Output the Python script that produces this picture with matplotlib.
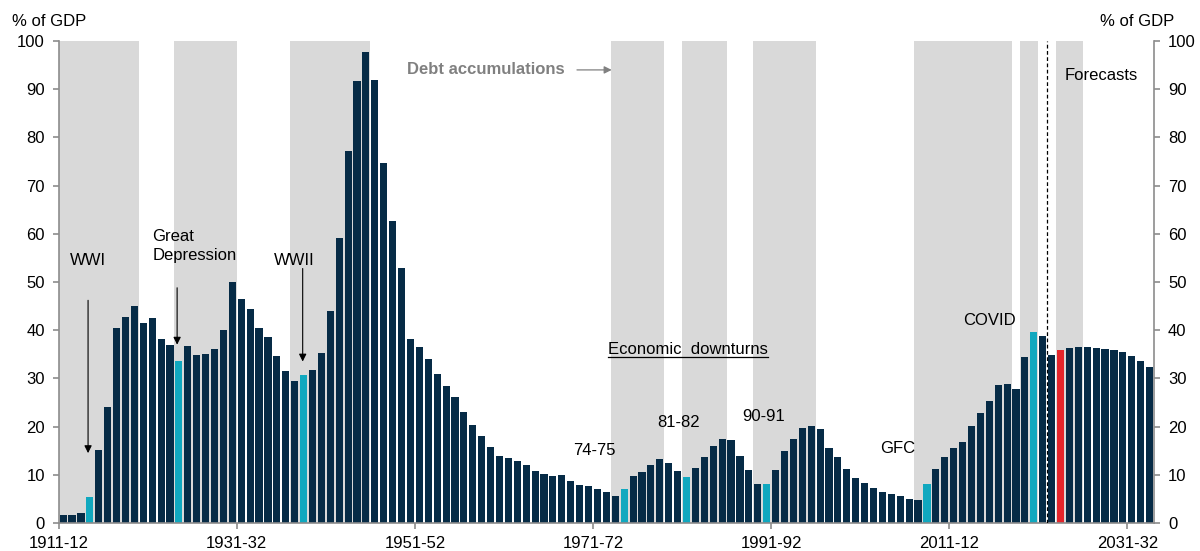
import matplotlib
matplotlib.use("Agg")
import matplotlib.pyplot as plt
from matplotlib.lines import Line2D

plt.rcParams['font.family'] = ['Liberation Sans', 'DejaVu Sans']

start_year = 1911
debt = [1.6, 1.6, 2.0, 5.4, 15.1, 24.1, 40.5, 42.8, 45.0, 41.4,
        42.5, 38.2, 37.0, 33.7, 36.7, 34.8, 35.1, 36.0, 40.0, 50.1,
        46.4, 44.5, 40.5, 38.5, 34.7, 31.5, 29.5, 30.8, 31.7, 35.3,
        44.0, 59.1, 77.1, 91.7, 97.7, 91.9, 74.7, 62.6, 53.0, 38.2,
        36.6, 34.0, 31.0, 28.4, 26.2, 23.0, 20.3, 18.0, 15.8, 14.0,
        13.5, 12.8, 12.0, 10.7, 10.2, 9.7, 9.9, 8.8, 7.8, 7.7,
        7.1, 6.5, 5.7, 7.0, 9.7, 10.5, 12.0, 13.3, 12.4, 10.7,
        9.6, 11.5, 13.7, 16.0, 17.4, 17.2, 13.9, 10.9, 8.1, 8.1,
        10.9, 14.9, 17.4, 19.7, 20.1, 19.4, 15.6, 13.7, 11.2, 9.3,
        8.4, 7.3, 6.5, 6.1, 5.5, 4.9, 4.7, 8.0, 11.3, 13.6,
        15.5, 16.8, 20.1, 22.8, 25.3, 28.6, 28.9, 27.9, 34.5, 39.6,
        38.9, 34.9, 35.8, 36.4, 36.6, 36.6, 36.4, 36.1, 35.8, 35.4,
        34.7, 33.7, 32.4]
years = [f"{y}-{str(y + 1)[-2:]}" for y in range(start_year, start_year + len(debt))]

downturn_years = ["1914-15", "1924-25", "1938-39", "1974-75", "1981-82",
                  "1990-91", "2008-09", "2020-21"]
budget_year = "2023-24"
# debt accumulation periods (first year, last year)
accum_periods = [("1911-12", "1919-20"), ("1924-25", "1930-31"),
                 ("1937-38", "1945-46"), ("1973-74", "1978-79"),
                 ("1981-82", "1985-86"), ("1989-90", "1995-96"),
                 ("2007-08", "2017-18"), ("2019-20", "2020-21"),
                 ("2023-24", "2025-26")]
forecast_after = "2021-22"
tick_years = ["1911-12", "1931-32", "1951-52", "1971-72", "1991-92", "2011-12", "2031-32"]

NAVY = "#062b46"
CYAN = "#10a8bf"
RED = "#e3262c"
GREY = "#d9d9d9"
AXC = "#8c8c8c"

fig = plt.figure(figsize=(12, 5.51), dpi=100)
ax = fig.add_axes([0.0489, 0.0508, 0.9128, 0.8748])

idx = {y: i for i, y in enumerate(years)}
for a, b in accum_periods:
    ax.axvspan(idx[a] - 0.5, idx[b] + 0.5, color=GREY, lw=0, zorder=0)

colors = []
for y in years:
    if y == budget_year:
        colors.append(RED)
    elif y in downturn_years:
        colors.append(CYAN)
    else:
        colors.append(NAVY)
x = list(range(len(debt)))
ax.bar(x, debt, width=0.8, color=colors, zorder=2)

ax.axvline(idx[forecast_after] - 0.5 + 1, ymin=0, ymax=1, color="black",
           lw=0.9, ls=(0, (3, 2)), zorder=3)

ax.set_xlim(-0.5, len(debt) - 0.5)
ax.set_ylim(0, 100)
ax.set_xticks([idx[t] - 0.5 for t in tick_years])
ax.set_xticklabels(tick_years)
ax.set_yticks(range(0, 101, 10))
ax.tick_params(axis='both', labelsize=12, colors=AXC, labelcolor="black",
               length=4, width=1.2)
ax.tick_params(axis='x', pad=5)
ax.tick_params(axis='y', pad=6)
for s in ["top"]:
    ax.spines[s].set_visible(False)
ax.spines["right"].set_visible(False)
for s in ["left", "bottom"]:
    ax.spines[s].set_color(AXC)
    ax.spines[s].set_linewidth(1.2)

ax2 = ax.twinx()
ax2.set_ylim(0, 100)
ax2.set_yticks(range(0, 101, 10))
ax2.tick_params(axis='y', labelsize=12, colors=AXC, labelcolor="black",
                length=4, width=1.2, pad=6)
for s in ["top", "left", "bottom"]:
    ax2.spines[s].set_visible(False)
ax2.spines["right"].set_color(AXC)
ax2.spines["right"].set_linewidth(1.2)

fig.text(11.7 / 1200, 1 - 21.7 / 551, "% of GDP", fontsize=12, ha="left", va="center")
fig.text(1174.3 / 1200, 1 - 21.7 / 551, "% of GDP", fontsize=12, ha="right", va="center")

fs = 12
arrow = dict(arrowstyle='-|>', color="black", lw=0.8, mutation_scale=11, shrinkA=0, shrinkB=0)
ax.text(2.8, 54.4, "WWI", fontsize=fs, ha="center", va="center", zorder=5)
ax.annotate("", xy=(2.8, 14.5), xytext=(2.8, 46.2), arrowprops=arrow, zorder=5)
ax.text(10.0, 57.5, "Great\nDepression", fontsize=fs, ha="left", va="center",
        linespacing=1.3, zorder=5)
ax.annotate("", xy=(12.8, 37.0), xytext=(12.8, 48.8), arrowprops=arrow, zorder=5)
ax.text(26.0, 54.4, "WWII", fontsize=fs, ha="center", va="center", zorder=5)
ax.annotate("", xy=(26.9, 33.5), xytext=(26.9, 52.8), arrowprops=arrow, zorder=5)

ax.text(38.6, 94.0, "Debt accumulations", fontsize=fs, fontweight="bold",
        color="#808080", ha="left", va="center", zorder=5)
ax.annotate("", xy=(61.6, 94.0), xytext=(57.7, 94.0),
            arrowprops=dict(arrowstyle='-|>', color="#808080", lw=0.9,
                            mutation_scale=11, shrinkA=0, shrinkB=0), zorder=5)

t_ed = ax.text(61.15, 36.1, "Economic  downturns", fontsize=fs, ha="left",
               va="center", zorder=5)
fig.canvas.draw()
bb = t_ed.get_window_extent().transformed(ax.transData.inverted())
ax.add_line(Line2D([bb.x0, bb.x1], [34.4, 34.4], color="black", lw=0.9, zorder=5))

for label, xi, yv in [("74-75", 59.7, 15.1), ("81-82", 69.1, 20.9),
                      ("90-91", 78.7, 22.1), ("GFC", 93.7, 15.4),
                      ("COVID", 104.0, 42.1), ("Forecasts", 116.6, 92.9)]:
    ax.text(xi, yv, label, fontsize=fs, ha="center", va="center", zorder=5)

fig.savefig("out.png", dpi=100)
